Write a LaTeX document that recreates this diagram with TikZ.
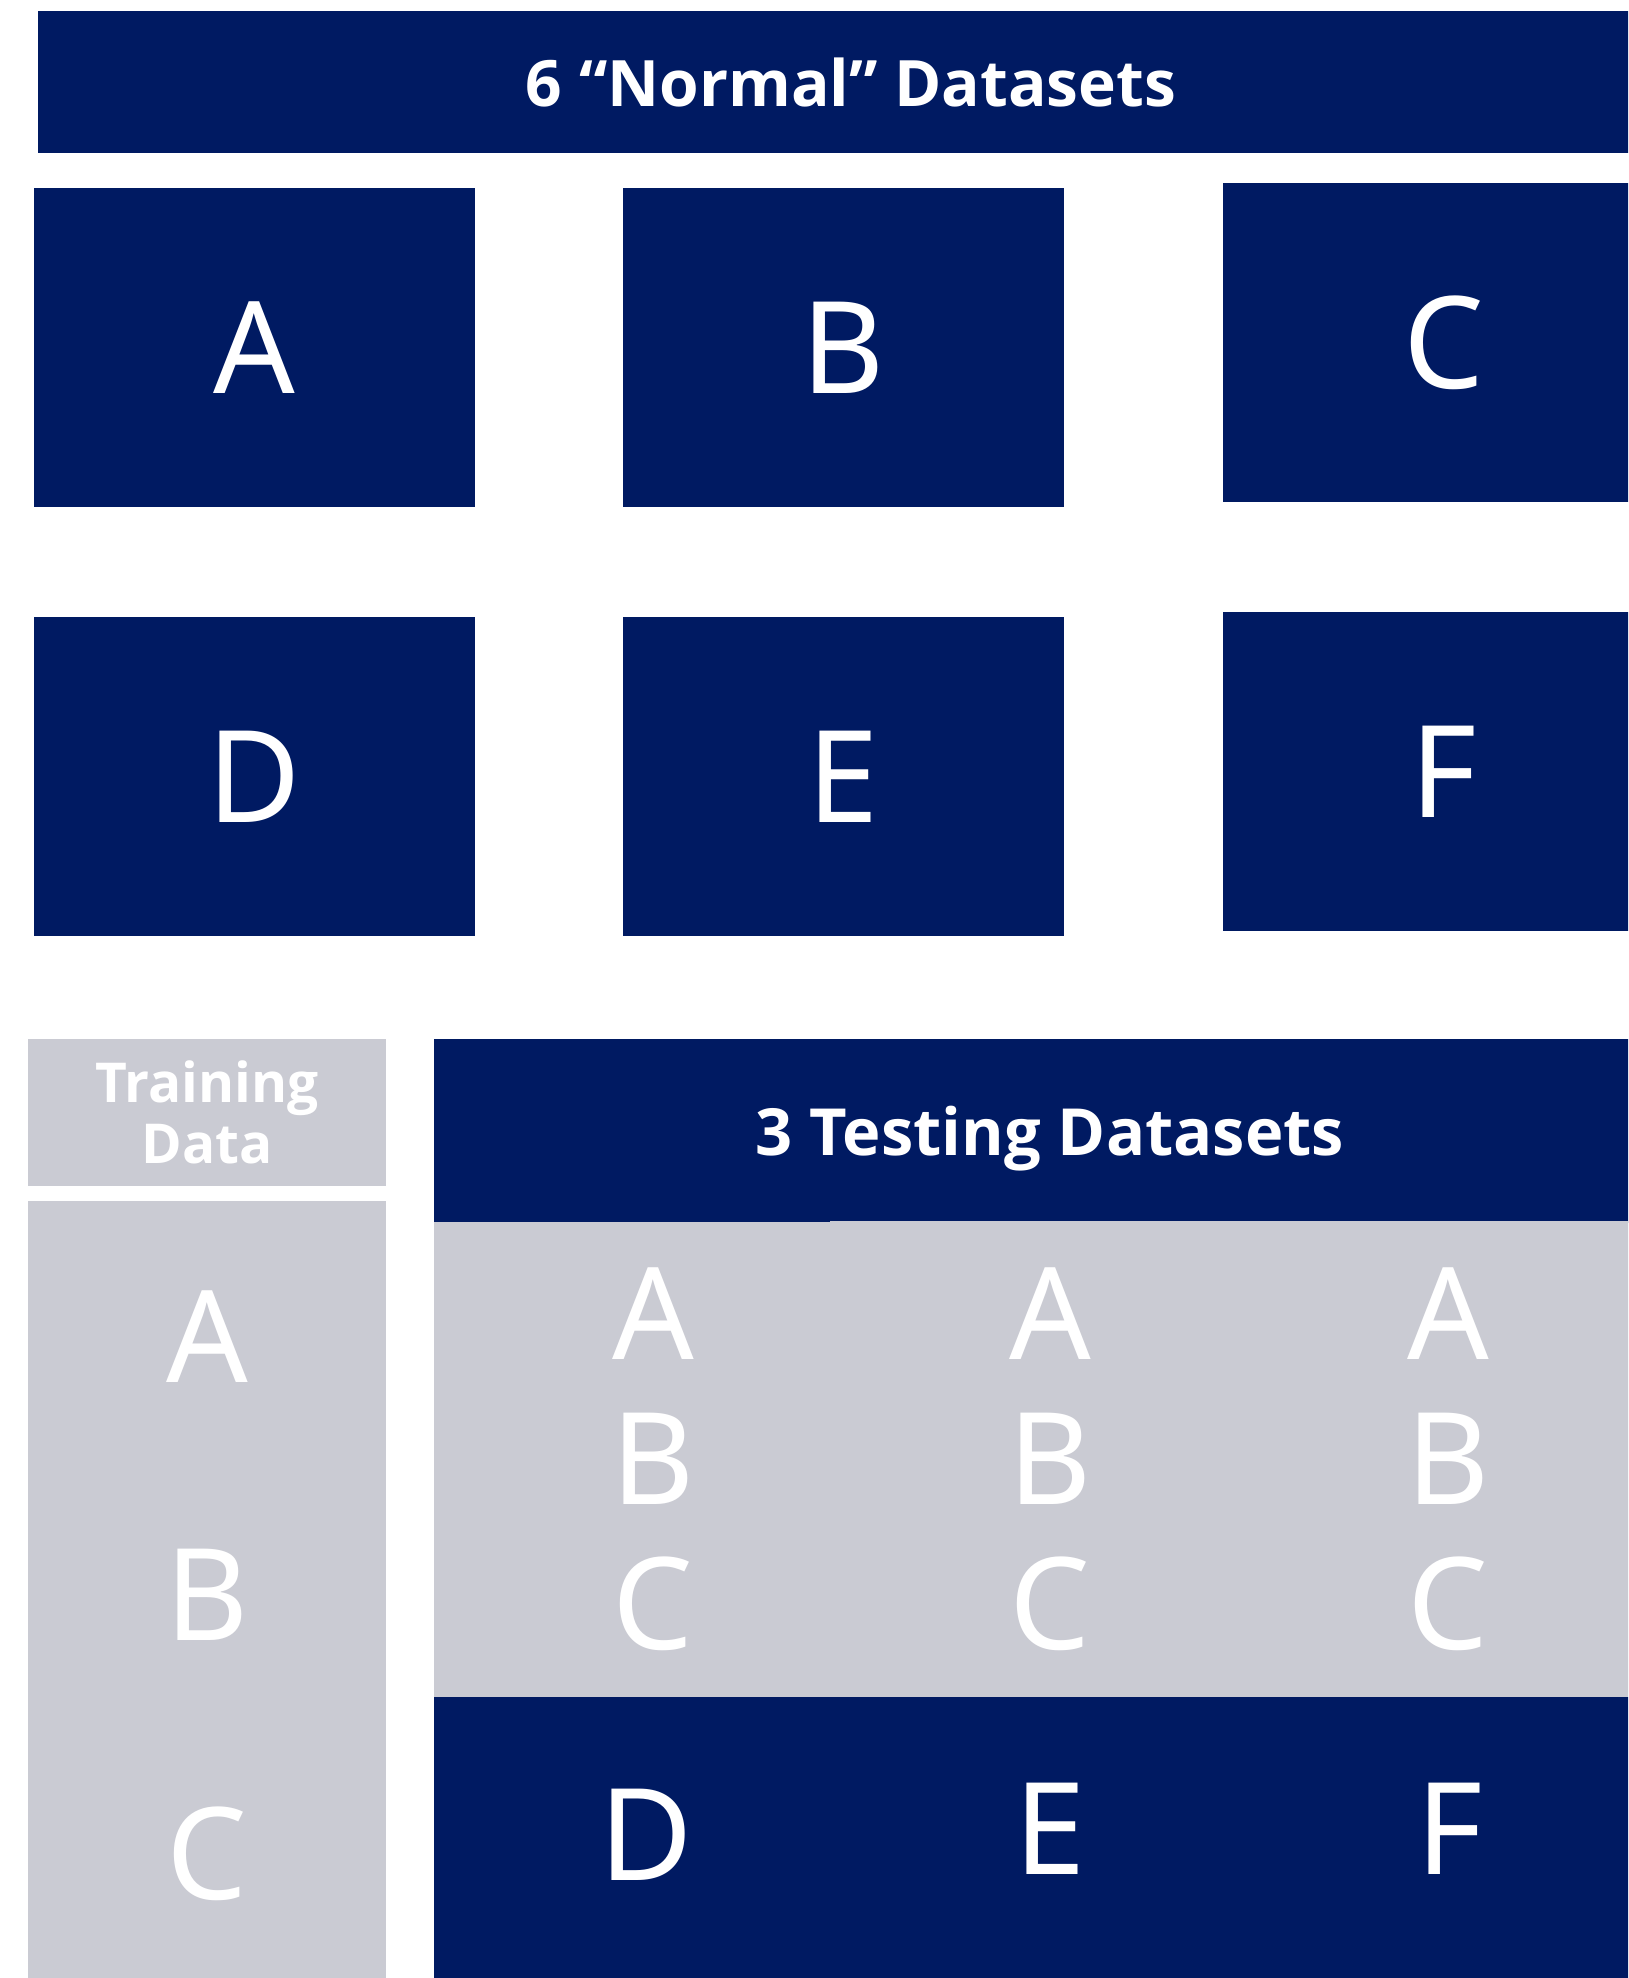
\documentclass[tikz,border=0pt]{standalone}
\usepackage{fontspec}
\setmainfont{Noto Sans}
\newfontfamily\headfont{Open Sans}
\definecolor{navy}{RGB}{0,26,98}
\definecolor{lgray}{RGB}{202,203,211}
\begin{document}
\begin{tikzpicture}[x=1pt,y=-1pt,
  panel/.style={inner sep=0pt, outer sep=0pt, anchor=north west, text=white},
  navypanel/.style={panel, fill=navy},
  graypanel/.style={panel, fill=lgray},
  bigletter/.style={text=white, inner sep=0pt, font=\fontsize{128}{130}\selectfont},
  headtext/.style={font=\headfont\bfseries\fontsize{64}{72}\selectfont}]
\clip (0,0) rectangle (1628,1978);
\path[use as bounding box] (0,0) rectangle (1628,1978);
\fill[white] (0,0) rectangle (1628,1978);
% top banner
\node[navypanel, headtext, minimum width=1626pt, minimum height=142pt] (normal) at (38,11) {6 “Normal” Datasets};
% six datasets
\node[navypanel, bigletter, anchor=north west, minimum width=441pt, minimum height=319pt] (boxA) at (34,188) {A};
\node[navypanel, bigletter, anchor=north west, minimum width=441pt, minimum height=319pt] (boxB) at (623,188) {B};
\node[navypanel, bigletter, anchor=north west, minimum width=441pt, minimum height=319pt] (boxC) at (1223,183) {C};
\node[navypanel, bigletter, anchor=north west, minimum width=441pt, minimum height=319pt] (boxD) at (34,617) {D};
\node[navypanel, bigletter, anchor=north west, minimum width=441pt, minimum height=319pt] (boxE) at (623,617) {E};
\node[navypanel, bigletter, anchor=north west, minimum width=441pt, minimum height=319pt] (boxF) at (1223,612) {F};
% training data
\node[graypanel, align=center, font=\headfont\bfseries\fontsize{55}{61}\selectfont, minimum width=358pt, minimum height=147pt] (trainhead) at (28,1039) {Training\\Data};
\node[graypanel, minimum width=358pt, minimum height=777pt] (traincol) at (28,1201) {};
\node[bigletter] (trA) at (207,1337) {A};
\node[bigletter] (trB) at (207,1595) {B};
\node[bigletter] (trC) at (207,1854) {C};
% testing datasets
\node[navypanel, headtext, font=\headfont\bfseries\fontsize{65}{72}\selectfont, text depth=0pt, minimum width=1232pt, minimum height=184pt] (testhead) at (434,1039) {3 Testing Datasets};
\node[graypanel, minimum width=397pt, minimum height=475pt] (tcol1) at (434,1222) {};
\node[graypanel, minimum width=397pt, minimum height=476pt] (tcol2) at (830,1221) {};
\node[graypanel, minimum width=439pt, minimum height=476pt] (tcol3) at (1227,1221) {};
\node[navypanel, minimum width=1232pt, minimum height=290pt] (tbottom) at (434,1697) {};
\node[bigletter] (t1A) at (653,1314) {A};
\node[bigletter] (t1B) at (653,1459) {B};
\node[bigletter] (t1C) at (653,1604) {C};
\node[bigletter] (t2A) at (1050,1314) {A};
\node[bigletter] (t2B) at (1050,1459) {B};
\node[bigletter] (t2C) at (1050,1604) {C};
\node[bigletter] (t3A) at (1448,1314) {A};
\node[bigletter] (t3B) at (1448,1459) {B};
\node[bigletter] (t3C) at (1448,1604) {C};
\node[bigletter] (tD) at (646,1835) {D};
\node[bigletter] (tE) at (1050,1829) {E};
\node[bigletter] (tF) at (1450,1829) {F};
\end{tikzpicture}
\end{document}
